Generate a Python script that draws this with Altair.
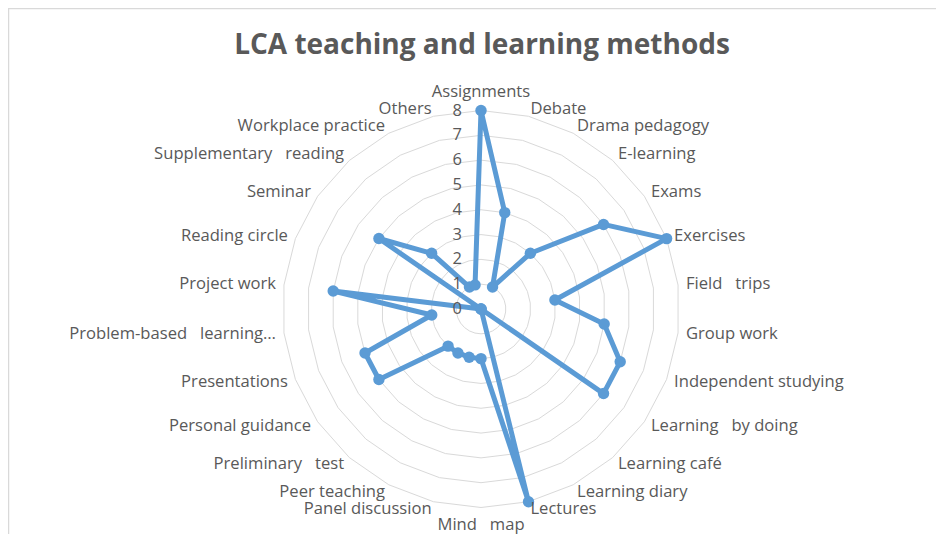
import altair as alt
import pandas as pd
import math

NB = "\u00a0\u00a0\u00a0"
categories = [
    "Assignments", "Debate", "Drama pedagogy", "E-learning", "Exams", "Exercises",
    "Field" + NB + "trips", "Group work", "Independent studying", "Learning" + NB + "by doing",
    "Learning café", "Learning diary", "Lectures", "Mind" + NB + "map", "Panel discussion",
    "Peer teaching", "Preliminary" + NB + "test", "Personal guidance", "Presentations",
    "Problem-based" + NB + "learning…", "Project work", "Reading circle", "Seminar",
    "Supplementary" + NB + "reading", "Workplace practice", "Others",
]
values = [8, 4, 1, 3, 6, 8, 3, 5, 6, 6, 0, 0, 8, 2, 2, 2, 2, 5, 5, 2, 6, 0, 5, 3, 1, 1]
ticks = [0, 1, 2, 3, 4, 5, 6, 7, 8]
title_text = "LCA teaching and learning methods"

N = len(categories)
TWO_PI_N = f"(2*PI/{N})"

# layout (pixels)
W, H = 928, 526
CX, CY, R = 473, 301, 198.5
u = max(ticks) / R  # data units per pixel
xdom = [-CX * u, (W - CX) * u]
ydom = [-(H - CY) * u, CY * u]
xs = alt.Scale(domain=xdom, range=[0, W], nice=False, zero=False)
ys = alt.Scale(domain=ydom, range=[H, 0], nice=False, zero=False)
X = lambda f: alt.X(f, type="quantitative", scale=xs, axis=None)
Y = lambda f: alt.Y(f, type="quantitative", scale=ys, axis=None)

FONT = "Open Sans"
GREY = "#595959"
BLUE = "#5B9BD5"

df = pd.DataFrame({"category": categories, "value": values, "idx": list(range(N))})
line_df = pd.concat([df, df.iloc[[0]].assign(idx=N)], ignore_index=True)

grid_df = pd.DataFrame([{"level": lv, "k": k} for lv in ticks[1:] for k in range(N + 1)])
tick_df = pd.DataFrame({"level": ticks, "label": [str(t) for t in ticks]})

grid = alt.Chart(grid_df).transform_calculate(
    gx=f"datum.level*sin(datum.k*{TWO_PI_N})",
    gy=f"datum.level*cos(datum.k*{TWO_PI_N})",
).mark_line(color="#D9D9D9", strokeWidth=1).encode(
    x=X("gx"), y=Y("gy"), detail="level:N", order="k:Q"
)

def pos(c):
    return c.transform_calculate(
        ang=f"datum.idx*{TWO_PI_N}",
    ).transform_calculate(
        px="datum.value*sin(datum.ang)",
        py="datum.value*cos(datum.ang)",
    )

series = pos(alt.Chart(line_df)).mark_line(color=BLUE, strokeWidth=5, strokeJoin="round").encode(
    x=X("px"), y=Y("py"), order="idx:Q"
)
points = pos(alt.Chart(df)).mark_circle(color=BLUE, size=130, opacity=1).encode(
    x=X("px"), y=Y("py")
)

tick_text = alt.Chart(tick_df).transform_calculate(tx="0").mark_text(
    align="right", baseline="middle", dx=-19, font=FONT, fontSize=16.5, color=GREY
).encode(x=X("tx"), y=Y("level"), text="label:N")

RL = max(ticks) + 8 * u

def lab(c):
    return c.transform_calculate(
        ang=f"datum.idx*{TWO_PI_N}",
    ).transform_calculate(
        lx=f"{RL}*sin(datum.ang)",
        ly=f"{RL}*cos(datum.ang)",
        s="sin(datum.ang)",
    )

lab_kw = dict(font=FONT, fontSize=16.6, color=GREY)
lab_right = lab(alt.Chart(df)).transform_filter("datum.s > 0.05").mark_text(
    align="left", baseline="middle", **lab_kw).encode(x=X("lx"), y=Y("ly"), text="category:N")
lab_left = lab(alt.Chart(df)).transform_filter("datum.s < -0.05").mark_text(
    align="right", baseline="middle", **lab_kw).encode(x=X("lx"), y=Y("ly"), text="category:N")
lab_top = lab(alt.Chart(df)).transform_filter("abs(datum.s) <= 0.05 && datum.ly > 0").mark_text(
    align="center", baseline="bottom", dy=-3, **lab_kw).encode(x=X("lx"), y=Y("ly"), text="category:N")
lab_bot = lab(alt.Chart(df)).transform_filter("abs(datum.s) <= 0.05 && datum.ly < 0").mark_text(
    align="center", baseline="top", dy=1, **lab_kw).encode(x=X("lx"), y=Y("ly"), text="category:N")

title = alt.Chart(pd.DataFrame({"t": [title_text]})).mark_text(
    align="center", baseline="alphabetic", font=FONT, fontSize=28, fontWeight="bold", color=GREY
).encode(x=alt.value(474), y=alt.value(46), text="t:N")

border_top = alt.Chart(pd.DataFrame({"a": [0]})).mark_rule(color="#D9D9D9", strokeWidth=1.5).encode(
    x=alt.value(0), x2=alt.value(W), y=alt.value(0.5))
border_left = alt.Chart(pd.DataFrame({"a": [0]})).mark_rule(color="#D9D9D9", strokeWidth=1.5).encode(
    x=alt.value(0.5), y=alt.value(0), y2=alt.value(H))

chart = alt.layer(
    border_top, border_left, grid, series, points, tick_text,
    lab_right, lab_left, lab_top, lab_bot, title
).properties(
    width=W, height=H, padding=0, autosize=alt.AutoSizeParams(type="none")
).configure_view(stroke=None).configure(background="white")

chart.save("out.html", embed_options={"renderer": "svg", "actions": False})
